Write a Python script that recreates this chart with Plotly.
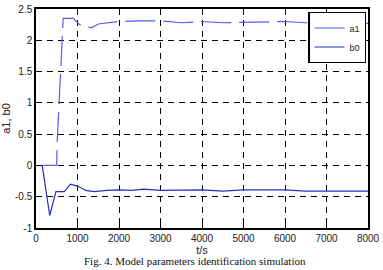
import plotly.graph_objects as go

# Data
a1_t = [150, 500, 505, 520, 570, 620, 655, 900, 1050, 1200, 1330, 1500, 1700, 2000, 2500, 3000, 3500, 4000, 4500, 5000, 5500, 6000, 6500, 7000, 7500, 8000]
a1_v = [0, 0, 0.3, 0.5, 1.05, 1.8, 2.35, 2.35, 2.25, 2.22, 2.2, 2.26, 2.28, 2.3, 2.31, 2.31, 2.28, 2.3, 2.28, 2.29, 2.29, 2.3, 2.28, 2.27, 2.27, 2.27]

b0_t = [150, 330, 480, 680, 830, 1000, 1200, 1400, 1700, 2000, 2300, 2600, 3000, 3500, 4000, 4500, 5000, 5500, 6000, 6500, 7000, 7500, 8000]
b0_v = [0, -0.8, -0.42, -0.42, -0.3, -0.33, -0.4, -0.42, -0.4, -0.39, -0.4, -0.38, -0.4, -0.4, -0.39, -0.41, -0.39, -0.39, -0.39, -0.41, -0.41, -0.41, -0.41]

x_ticks = [0, 1000, 2000, 3000, 4000, 5000, 6000, 7000, 8000]
y_ticks = [-1, -0.5, 0, 0.5, 1, 1.5, 2, 2.5]
y_labels = ["-1", "-0.5", "0", "0.5", "1", "1.5", "2", "2.5"]

font = "Liberation Sans Narrow, Liberation Sans, Arial, sans-serif"

fig = go.Figure()
fig.add_trace(go.Scatter(x=a1_t, y=a1_v, mode="lines", name="a1",
                         line=dict(color="#5a5aee", width=1.2, dash="30px,8px")))
fig.add_trace(go.Scatter(x=b0_t, y=b0_v, mode="lines", name="b0",
                         line=dict(color="#2c2cc0", width=1.2)))

axis_common = dict(showline=True, linecolor="black", linewidth=1.5, mirror=True,
                   showgrid=True, gridcolor="black", gridwidth=1, griddash="6px,5px",
                   zeroline=False, ticks="inside", ticklen=4, tickcolor="black",
                   ticklabeloverflow="allow",
                   tickfont=dict(family=font, size=10, color="#222"))

fig.update_layout(
    width=383, height=270,
    margin=dict(l=32, r=3, t=5, b=42),
    paper_bgcolor="white", plot_bgcolor="white",
    showlegend=True,
    legend=dict(x=0.995, y=0.985, xanchor="right", yanchor="top",
                bgcolor="white", bordercolor="black", borderwidth=1.2,
                font=dict(family=font, size=9, color="#222"),
                itemwidth=30, tracegroupgap=0),
    xaxis=dict(range=[0, 8000], tickvals=x_ticks, ticktext=[str(v) for v in x_ticks],
               title=dict(text="t/s", font=dict(family=font, size=11, color="#222"), standoff=2),
               **axis_common),
    yaxis=dict(range=[-1, 2.5], tickvals=y_ticks, ticktext=y_labels,
               title=dict(text="a1, b0", font=dict(family=font, size=11, color="#222"), standoff=4),
               **axis_common),
)

fig.add_annotation(text="Fig. 4. Model parameters identification simulation",
                   xref="paper", yref="paper", x=0.48, y=-0.186,
                   xanchor="center", yanchor="bottom", showarrow=False,
                   font=dict(family="Liberation Serif, Times New Roman, serif", size=11, color="#111"))

fig.write_html("out.html")
